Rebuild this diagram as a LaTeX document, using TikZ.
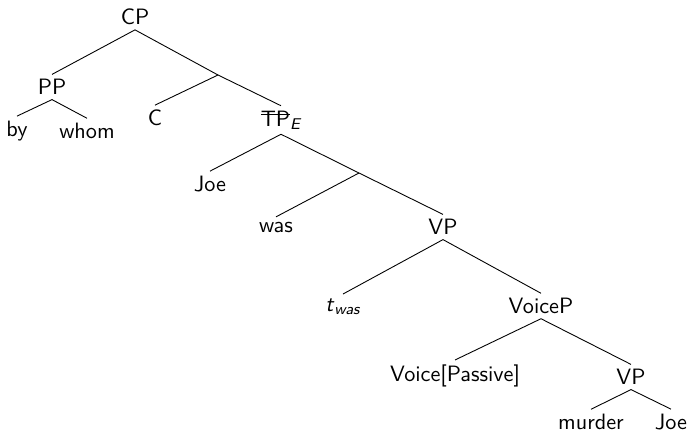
\documentclass[tikz,border=0pt]{standalone}
\newcommand{\strk}[1]{\setbox0\hbox{#1}\rlap{\rule[0.5em]{\wd0}{0.5pt}}\box0}
\begin{document}
\begin{tikzpicture}[x=0.45pt, y=-0.45pt, font=\sffamily,
		every node/.style={inner sep=2pt}]
	\useasboundingbox (0,0) rectangle (690,433);
	% upper part
	\node (CP) at (135,17) {CP};
	\node (PP) at (52,87) {PP};
	\node (by) at (17,131) {by};
	\node (whom) at (87,131) {whom};
	\coordinate (Cbar) at (218,75);
	\node (C) at (155,118) {C};
	\node (TP) at (281,120) {\strk{TP}\textsubscript{\itshape E}};
	% TP and below
	\node (Joe) at (210,184) {Joe};
	\coordinate (Tbar) at (359,173);
	\node (was) at (276,227) {was};
	\node (VP) at (443,227) {VP};
	\node (twas) at (343,307) {\textit{t}\textsubscript{\itshape was}};
	\node (VoiceP) at (541,306) {VoiceP};
	\node (Voice) at (455,376) {Voice[Passive]};
	\node (VPlow) at (631,377) {VP};
	\node (murder) at (591,422) {murder};
	\node (Joelow) at (671,422) {Joe};
	% branches
	\draw (CP.south) -- (PP.north);
	\draw (CP.south) -- (Cbar) -- (TP.north);
	\draw (Cbar) -- (C.north);
	\draw (PP.south) -- (by.north);
	\draw (PP.south) -- (whom.north);
	\draw (TP.south) -- (Joe.north);
	\draw (TP.south) -- (Tbar) -- (VP.north);
	\draw (Tbar) -- (was.north);
	\foreach \a/\b in {VP/twas, VP/VoiceP, VoiceP/Voice, VoiceP/VPlow,
			VPlow/murder, VPlow/Joelow}
		{
			\draw (\a.south) -- (\b.north);
		}
\end{tikzpicture}
\end{document}
